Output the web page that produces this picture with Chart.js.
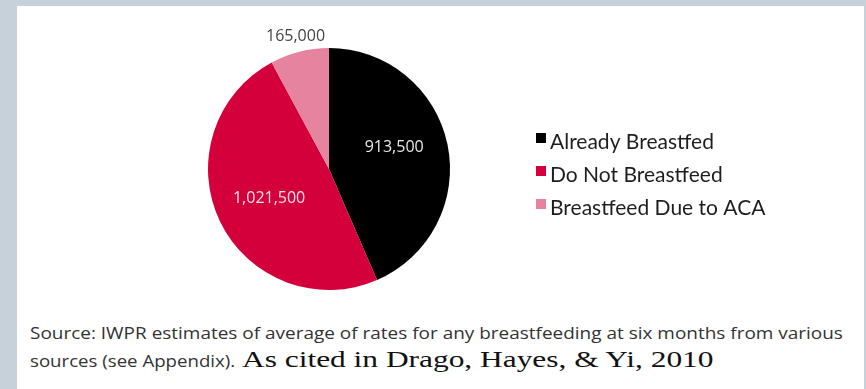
<!DOCTYPE html>
<html>
<head>
<meta charset="utf-8">
<script src="https://cdn.jsdelivr.net/npm/chart.js@4"></script>
<style>
  body { margin:0; width:866px; height:389px; overflow:hidden; position:relative; background:#c6d1d9; }
  #panel { position:absolute; left:17px; top:6px; width:847px; height:383px; background:#fff; }
  #wrap { position:absolute; left:0; top:0; width:866px; height:310px; }
  .src { position:absolute; white-space:nowrap; color:#333; font-family:"Open Sans", sans-serif; font-size:17px; line-height:17px; transform-origin:0 0; }
  .cite { position:absolute; white-space:nowrap; color:#111; font-family:"Liberation Serif", serif; font-size:24px; line-height:24px; transform-origin:0 0; }
</style>
</head>
<body>
<div id="panel"></div>
<div id="wrap"><canvas id="mycanvas"></canvas></div>
<div class="src" id="src1" style="left:30px; top:324px;">Source: IWPR estimates of average of rates for any breastfeeding at six months from various</div>
<div class="src" id="src2" style="left:30px; top:352px;">sources (see Appendix).</div>
<div class="cite" id="cite" style="left:242px; top:347px;">As cited in Drago, Hayes, &amp; Yi, 2010</div>
<script>
var labels = ['Already Breastfed', 'Do Not Breastfeed', 'Breastfeed Due to ACA'];
var counts = [913500, 1021500, 165000];
var sliceColors = ['#000000', '#d4003c', '#e6839e'];
var valueColors = ['#e8e8e8', '#f7e1e7', '#444444'];

// squeeze the source lines to the widths seen in the picture
function fitWidth(id, w) {
  var el = document.getElementById(id);
  el.style.transform = 'scaleX(' + (w / el.offsetWidth) + ')';
}
fitWidth('src1', 813);
fitWidth('src2', 205);
fitWidth('cite', 471);

var sliceText = {
  id: 'sliceText',
  afterDatasetsDraw: function(chart) {
    var ctx = chart.ctx;
    var meta = chart.getDatasetMeta(0);
    var total = counts.reduce(function(a, b) { return a + b; }, 0);
    ctx.save();
    ctx.textAlign = 'center';
    ctx.textBaseline = 'middle';
    ctx.font = '16px "Open Sans"';
    meta.data.forEach(function(arc, i) {
      var mid = (arc.startAngle + arc.endAngle) / 2;
      var r = counts[i] / total < 0.1 ? arc.outerRadius + 16 : arc.outerRadius * 0.55;
      ctx.fillStyle = valueColors[i];
      ctx.fillText(counts[i].toLocaleString('en-US'), arc.x + Math.cos(mid) * r, arc.y + Math.sin(mid) * r - (i === 0 ? 8 : 0));
    });

    // legend on the right
    ctx.textAlign = 'left';
    ctx.textBaseline = 'alphabetic';
    ctx.font = '21px Lato';
    for (var i = 0; i < labels.length; i++) {
      var y = 149 + i * 33;
      ctx.fillStyle = sliceColors[i];
      ctx.fillRect(536, y - 16, 10, 10);
      ctx.fillStyle = '#1e1e1e';
      ctx.fillText(labels[i], 550, y);
    }
    ctx.restore();
  }
};

var ctx = document.getElementById('mycanvas');
var pieChart = new Chart(ctx, {
  type: 'pie',
  data: {
    labels: labels,
    datasets: [{
      data: counts,
      backgroundColor: sliceColors,
      borderWidth: 0
    }]
  },
  options: {
    responsive: true,
    maintainAspectRatio: false,
    animation: false,
    layout: { padding: { left: 208, right: 416, top: 48, bottom: 20 } },
    plugins: {
      legend: { display: false },
      tooltip: { enabled: false }
    }
  },
  plugins: [sliceText]
});
</script>
</body>
</html>
